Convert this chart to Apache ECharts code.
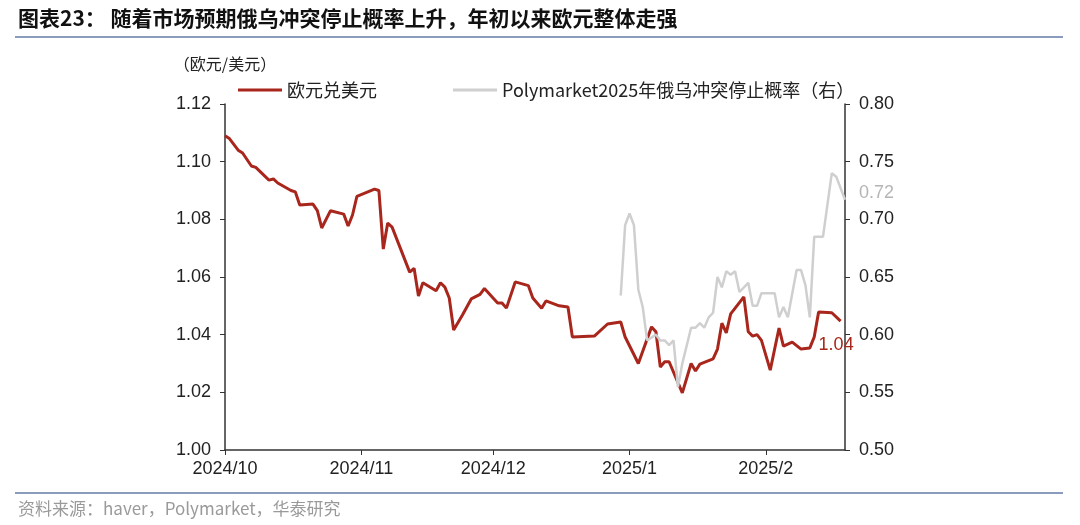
<!DOCTYPE html>
<html><head><meta charset="utf-8">
<script src="https://cdn.jsdelivr.net/npm/echarts@6/dist/echarts.min.js"></script>
<style>html,body{margin:0;padding:0;background:#fff}#c{width:1080px;height:525px}</style>
</head><body><div id="c"></div>
<script>
const titleText = '图表23： 随着市场预期俄乌冲突停止概率上升，年初以来欧元整体走强';
const sourceText = '资料来源：haver，Polymarket，华泰研究';
const leftAxisName = '（欧元/美元）';
const seriesNames = ['欧元兑美元', 'Polymarket2025年俄乌冲突停止概率（右）'];

const eurDates = ['2024-10-01','2024-10-02','2024-10-04','2024-10-05','2024-10-07','2024-10-08','2024-10-11','2024-10-12','2024-10-13','2024-10-16','2024-10-17','2024-10-18','2024-10-21','2024-10-22','2024-10-23','2024-10-25','2024-10-28','2024-10-29','2024-10-30','2024-10-31',
'2024-11-04','2024-11-05','2024-11-06','2024-11-07','2024-11-08','2024-11-12','2024-11-13','2024-11-14','2024-11-15','2024-11-18','2024-11-19','2024-11-20','2024-11-21','2024-11-22','2024-11-24','2024-11-26','2024-11-28','2024-11-29',
'2024-12-02','2024-12-03','2024-12-04','2024-12-06','2024-12-09','2024-12-10','2024-12-12','2024-12-13','2024-12-16','2024-12-18','2024-12-19','2024-12-24','2024-12-27','2024-12-30','2024-12-31',
'2025-01-03','2025-01-06','2025-01-07','2025-01-08','2025-01-09','2025-01-10','2025-01-13','2025-01-15','2025-01-16','2025-01-17','2025-01-20','2025-01-21','2025-01-22','2025-01-23','2025-01-24','2025-01-27','2025-01-28','2025-01-29','2025-01-30','2025-01-31',
'2025-02-02','2025-02-04','2025-02-05','2025-02-07','2025-02-09','2025-02-11','2025-02-12','2025-02-13','2025-02-16','2025-02-18'];
const eurValues = [1.109,1.108,1.104,1.103,1.0985,1.098,1.0936,1.094,1.0926,1.090,1.0895,1.085,1.0853,1.083,1.077,1.083,1.0818,1.0777,1.0815,1.088,
1.0905,1.090,1.0697,1.0787,1.0773,1.0617,1.063,1.0534,1.058,1.0552,1.058,1.0565,1.0527,1.0416,1.0468,1.0524,1.054,1.056,
1.051,1.051,1.0492,1.0583,1.057,1.0527,1.0492,1.0517,1.050,1.0496,1.0392,1.0395,1.0437,1.0444,1.0392,
1.030,1.0427,1.041,1.0288,1.0306,1.0306,1.0198,1.030,1.0274,1.0298,1.0316,1.035,1.044,1.0406,1.0472,1.0531,1.041,1.0395,1.040,1.038,
1.0277,1.0423,1.036,1.0374,1.035,1.0354,1.0392,1.0479,1.0476,1.0447];

const polyDates = ['2024-12-30','2024-12-31','2025-01-01','2025-01-02','2025-01-03','2025-01-04','2025-01-05','2025-01-07','2025-01-08','2025-01-09','2025-01-10','2025-01-11','2025-01-12','2025-01-13','2025-01-15','2025-01-16','2025-01-17','2025-01-18','2025-01-19','2025-01-20','2025-01-21','2025-01-22','2025-01-23','2025-01-24','2025-01-25','2025-01-26','2025-01-28','2025-01-29','2025-01-30','2025-01-31',
'2025-02-03','2025-02-04','2025-02-05','2025-02-06','2025-02-08','2025-02-09','2025-02-10','2025-02-11','2025-02-12','2025-02-14','2025-02-16','2025-02-17','2025-02-19'];
const polyValues = [0.634,0.695,0.705,0.695,0.639,0.624,0.595,0.600,0.595,0.595,0.591,0.595,0.5545,0.575,0.606,0.606,0.610,0.606,0.615,0.619,0.650,0.641,0.655,0.652,0.655,0.637,0.645,0.625,0.625,0.636,
0.636,0.615,0.624,0.615,0.656,0.656,0.643,0.615,0.685,0.685,0.740,0.737,0.717];

const xMin = '2024-10-01';
const xMax = '2025-02-19';

const RED = '#a8261c';
const GRAY = '#cfcfcf';
const AX = '#333';
const NUMFONT = '"Liberation Sans",Arial,sans-serif';
const CJK = '"Noto Sans CJK SC","Liberation Sans",sans-serif';

const chart = echarts.init(document.getElementById('c'), null, {renderer:'canvas'});
const DAY = 86400000;
chart.setOption({
  backgroundColor:'#fff',
  animation:false,
  graphic:[
    {type:'text', left:18, top:8, style:{text:titleText, font:'bold 21px "Noto Sans CJK SC", sans-serif', fill:'#111'}},
    {type:'rect', left:15, top:36, shape:{width:1048, height:2}, style:{fill:'#8a9cbd'}},
    {type:'rect', left:15, top:492, shape:{width:1048, height:2}, style:{fill:'#8a9cbd'}},
    {type:'text', left:18, top:500, style:{text:sourceText, font:'17px "Noto Sans CJK SC", sans-serif', fill:'#9a9a9a'}}
  ],
  legend:{
    left:233, top:76, itemGap:76, itemWidth:44, itemHeight:3, icon:'rect',
    textStyle:{fontSize:18, color:'#222', fontFamily:CJK},
    data:seriesNames
  },
  grid:{left:225, right:235, top:104, bottom:75, containLabel:false},
  xAxis:{
    type:'time', min:xMin, max:xMax,
    minInterval:28*DAY, maxInterval:31*DAY,
    axisLine:{lineStyle:{color:AX, width:1.5}},
    axisTick:{show:true, length:5, lineStyle:{color:AX}},
    splitLine:{show:false},
    axisLabel:{margin:10, fontSize:18, color:'#222', fontFamily:NUMFONT, hideOverlap:false,
      formatter:function(v){const d=new Date(v);return d.getFullYear()+'/'+(d.getMonth()+1);}}
  },
  yAxis:[
    {type:'value', min:1.00, max:1.12, interval:0.02, position:'left',
     name:leftAxisName, nameLocation:'end', nameGap:32,
     nameTextStyle:{fontSize:16, color:'#222', fontFamily:CJK, align:'center'},
     axisLine:{show:true, lineStyle:{color:AX, width:1.5}},
     axisTick:{show:true, length:5, lineStyle:{color:AX}},
     splitLine:{show:false},
     axisLabel:{margin:14, fontSize:18, color:'#222', fontFamily:NUMFONT, formatter:v=>v.toFixed(2)}},
    {type:'value', min:0.50, max:0.80, interval:0.05, position:'right',
     axisLine:{show:true, lineStyle:{color:AX, width:1.5}},
     axisTick:{show:true, length:5, lineStyle:{color:AX}},
     splitLine:{show:false},
     axisLabel:{margin:14, fontSize:18, color:'#222', fontFamily:NUMFONT, formatter:v=>v.toFixed(2)}}
  ],
  series:[
    {name:seriesNames[0], type:'line', yAxisIndex:0, showSymbol:false, symbol:'none',
     data:eurDates.map((d,i)=>[d,eurValues[i]]),
     lineStyle:{color:RED, width:3}, itemStyle:{color:RED},
     endLabel:{show:true, formatter:p=>p.value[1].toFixed(2), color:RED, fontSize:18,
       fontFamily:NUMFONT, offset:[-30,24]}},
    {name:seriesNames[1], type:'line', yAxisIndex:1, showSymbol:false, symbol:'none',
     data:polyDates.map((d,i)=>[d,polyValues[i]]),
     lineStyle:{color:GRAY, width:2.5}, itemStyle:{color:GRAY},
     endLabel:{show:true, formatter:p=>p.value[1].toFixed(2), color:'#b5b5b5', fontSize:18,
       fontFamily:NUMFONT, offset:[6,-7]}}
  ]
});
</script></body></html>
